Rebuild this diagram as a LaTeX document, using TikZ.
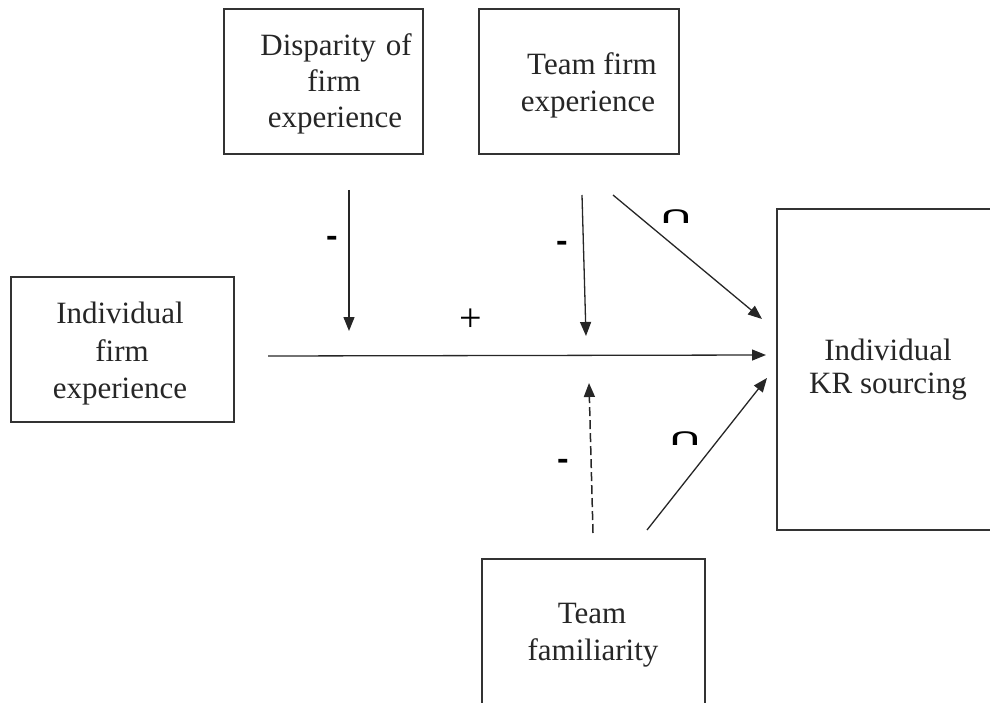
\documentclass[tikz,border=0pt]{standalone}
\usepackage{fontspec}
\setmainfont{Liberation Serif}
\newfontfamily\dashfont{Carlito}
\newfontfamily\symfont{DejaVu Sans}
\usetikzlibrary{arrows.meta}
\begin{document}
\begin{tikzpicture}[x=1pt,y=-1pt,
  box/.style={draw=black!80, line width=1.6pt, inner sep=0pt},
  txt/.style={anchor=base, inner sep=0pt, font=\fontsize{31}{37}\selectfont, text=black!85},
  sign/.style={inner sep=0pt, text=black},
  arr/.style={line width=1.3pt, draw=black!85, -{Triangle[length=14pt,width=11pt]}}]
\useasboundingbox (0,0) rectangle (990,703);
\clip (0,0) rectangle (990,703);
% boxes
\node[box, minimum width=199pt, minimum height=145pt] (disp) at (323.5,81.5) {};
\node[box, minimum width=200pt, minimum height=145pt] (tfe) at (579,81.5) {};
\node[box, minimum width=223pt, minimum height=145pt] (ife) at (122.5,349.5) {};
\node[box, minimum width=223pt, minimum height=321pt] (kr) at (888.5,369.5) {};
\node[box, minimum width=223pt, minimum height=201pt] (tf) at (593.5,659.5) {};
% texts
\node[txt] (d1) at (336,56) {Disparity\hspace{10pt}of};
\node[txt] (d2) at (334,92) {firm};
\node[txt] (d3) at (335,128) {experience};
\node[txt] (t1) at (592,75) {Team firm};
\node[txt] (t2) at (588,112) {experience};
\node[txt] (i1) at (120,323) {Individual};
\node[txt] (i2) at (122,361) {firm};
\node[txt] (i3) at (120,398) {experience};
\node[txt] (k1) at (888,360) {Individual};
\node[txt] (k2) at (888,393) {KR sourcing};
\node[txt] (f1) at (592,623) {Team};
\node[txt] (f2) at (593,660) {familiarity};
% connector end points
\coordinate (a1s) at (268,356); \coordinate (a1e) at (766,355);
\coordinate (a2s) at (349,190); \coordinate (a2e) at (349,331);
\coordinate (a3s) at (582,195); \coordinate (a3e) at (586,336);
\coordinate (a4s) at (613,195); \coordinate (a4e) at (762,319);
\coordinate (a5s) at (593,533); \coordinate (a5e) at (589,383);
\coordinate (a6s) at (647,530); \coordinate (a6e) at (767,378);
\draw[arr] (a1s) -- (a1e);
\draw[arr] (a2s) -- (a2e);
\draw[arr] (a3s) -- (a3e);
\draw[arr] (a4s) -- (a4e);
\draw[arr, line width=1.5pt, dash pattern=on 9pt off 4pt] (a5s) -- (a5e);
\draw[arr] (a6s) -- (a6e);
% signs
\node[sign, font=\dashfont\bfseries\fontsize{36}{36}\selectfont] (m1) at (332,242) {-};
\node[sign, font=\dashfont\bfseries\fontsize{36}{36}\selectfont] (m2) at (562,247) {-};
\node[sign, font=\dashfont\bfseries\fontsize{36}{36}\selectfont] (m3) at (563,465) {-};
\node[sign, font=\fontsize{40}{40}\selectfont] (p1) at (471,320) {+};
\node[sign, font=\symfont\fontsize{34}{34}\selectfont] (c1) at (676,217) {\scalebox{1.5}[0.7]{∩}};
\node[sign, font=\symfont\fontsize{34}{34}\selectfont] (c2) at (685,439) {\scalebox{1.5}[0.7]{∩}};
\end{tikzpicture}
\end{document}
